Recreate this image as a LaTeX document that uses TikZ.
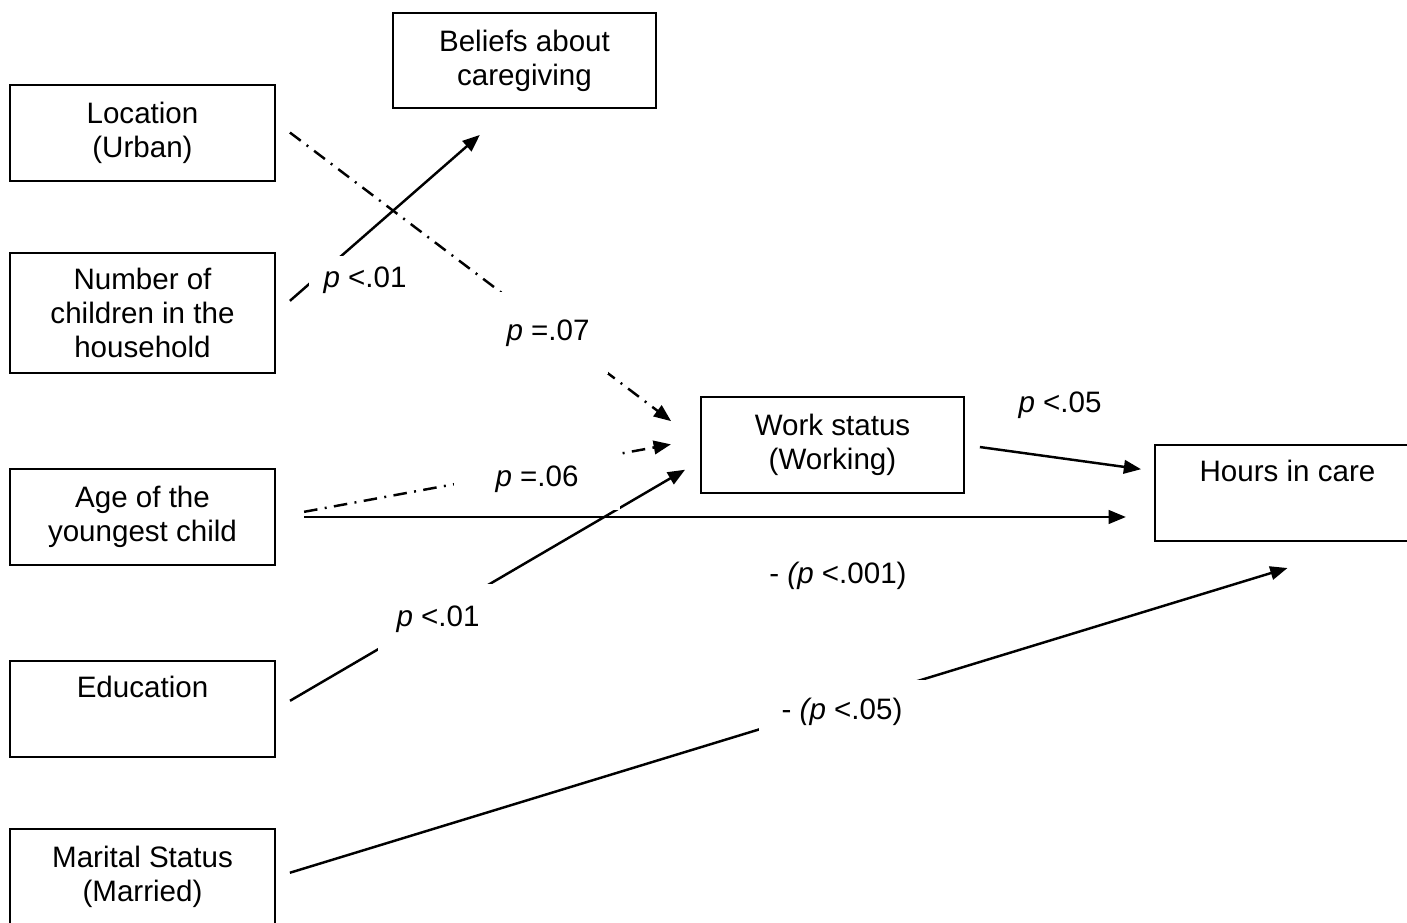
\documentclass[tikz,border=0pt]{standalone}
\usepackage{fontspec}
\setmainfont{Liberation Sans}
\usetikzlibrary{arrows.meta,calc}

\begin{document}
\begin{tikzpicture}[
    x=0.406pt, y=-0.406pt,
    font=\fontsize{12}{13.8}\selectfont,
    varbox/.style={rectangle, draw, line width=0.8pt, minimum width=107.6pt, minimum height=39pt, align=center, inner sep=0pt},
    arrow/.style={-{Triangle[length=7pt,width=5.5pt]}, line width=1pt},
    trend/.style={arrow, dash pattern=on 5.5pt off 3pt on 0.8pt off 3pt},
    plabel/.style={fill=white, inner sep=0pt, align=center}
]
    \useasboundingbox (0,0) rectangle (1407,923);

    % variables
    \node[varbox, minimum width=106.8pt, minimum height=38.6pt] (beliefs) at (524.5,60.5) {Beliefs about\\caregiving};
    \node[varbox] (loc) at (142.5,133) {Location\\(Urban)};
    \node[varbox, minimum height=48.7pt] (kids) at (142.5,313) {Number of\\children in the\\household};
    \node[varbox] (age) at (142.5,517) {Age of the\\youngest child};
    \node[varbox] (edu) at (142.5,709) {Education\\\strut};
    \node[varbox] (mar) at (142.5,877) {Marital Status\\(Married)};
    \node[varbox, minimum width=106.8pt] (work) at (832.5,445) {Work status\\(Working)};
    \node[varbox] (hours) at (1287.5,493) {Hours in care\\\strut};

    % paths
    \draw[arrow, shorten <=7.5pt, shorten >=16pt] (kids.east) -- ($(beliefs.south)+(-15,0)$);
    \draw[trend, shorten <=7.1pt, shorten >=14.7pt] ($(loc.east)+(0,-11)$) -- ($(work.west)+(0,-2)$);
    \draw[trend, shorten <=11.6pt, shorten >=12pt] (age.east) -- ($(work.west)+(0,-6)$);
    \draw[arrow, shorten <=11.4pt, shorten >=11.4pt] (age.east) -- (age.east -| hours.west);
    \draw[arrow, shorten <=6.6pt, shorten >=7pt] (edu.east) -- ($(work.west)+(0,16)$);
    \draw[arrow, shorten <=6.1pt, shorten >=5.3pt] (work.east) -- ($(hours.west)+(0,-22)$);
    \draw[arrow, shorten <=5.9pt] (mar.east) -- ($(hours.south)+(0,26)$);

    % p-values
    \node[plabel, minimum width=45.5pt, minimum height=19.5pt] (pkids) at (365,280) {\textit{p} <.01};
    \node[plabel, minimum width=48.7pt, minimum height=33.3pt] (ploc) at (548,333) {\textit{p} =.07};
    \node[plabel, minimum width=67.4pt, minimum height=25pt] (pagework) at (537,479) {\textit{p} =.06};
    \node (pagehours) at (838,576) {- \textit{(p} <.001)};
    \node[plabel, minimum width=48.7pt, minimum height=28.4pt] (pedu) at (438,619) {\textit{p} <.01};
    \node[plabel, minimum width=67pt, minimum height=26pt] (pmar) at (842,712) {- \textit{(p} <.05)};
    \node (pwork) at (1060,405) {\textit{p} <.05};
\end{tikzpicture}
\end{document}
